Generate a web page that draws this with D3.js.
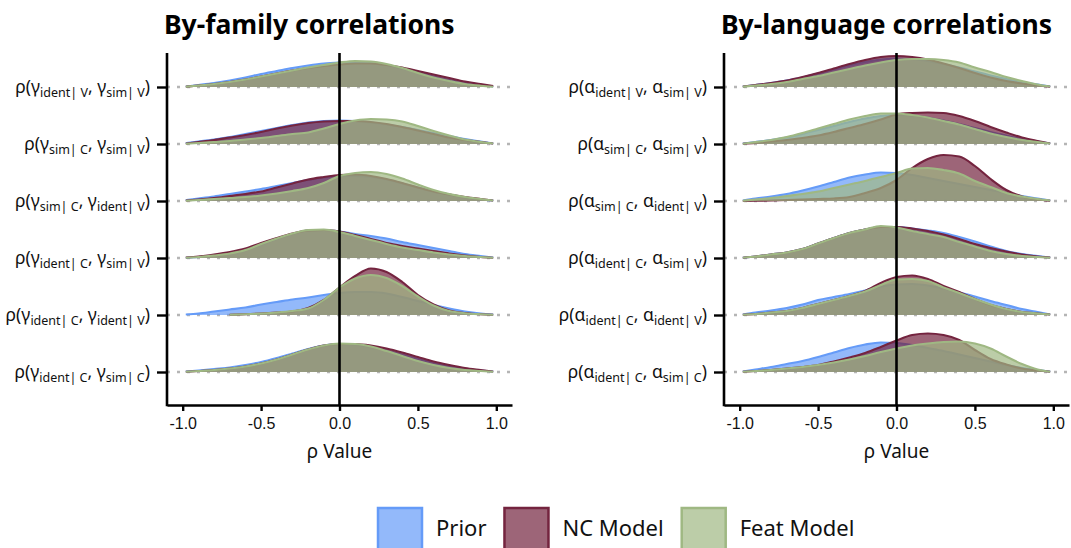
<!DOCTYPE html>
<html>
<head>
<meta charset="utf-8">
<script src="https://cdn.jsdelivr.net/npm/d3@7"></script>
<style>
  body { margin: 0; background: #fff; }
  svg { font-family: "Noto Sans", sans-serif; }
</style>
</head>
<body>
<div id="chart"></div>
<script>
// Data
const rhoGrid = [-0.98, -0.9, -0.8, -0.7, -0.6, -0.5, -0.4, -0.3, -0.2, -0.1, 0,
  0.1, 0.2, 0.3, 0.4, 0.5, 0.6, 0.7, 0.8, 0.9, 0.98];

const models = ["Prior", "NC Model", "Feat Model"];

// row terms, top to bottom
const rowTerms = [
  ["ident| V", "sim| V"],
  ["sim| C", "sim| V"],
  ["sim| C", "ident| V"],
  ["ident| C", "sim| V"],
  ["ident| C", "ident| V"],
  ["ident| C", "sim| C"],
];

const xTicks = [-1, -0.5, 0, 0.5, 1];

// density estimates, one array per row, on rhoGrid
const familyPrior = [
  [0.02,0.08,0.16,0.26,0.38,0.52,0.64,0.76,0.86,0.94,0.98,1.00,0.96,0.88,0.74,0.58,0.42,0.28,0.16,0.08,0.02],
  [0.04,0.10,0.18,0.28,0.40,0.52,0.64,0.76,0.86,0.92,0.94,0.92,0.86,0.78,0.68,0.56,0.44,0.32,0.20,0.10,0.02],
  [0.04,0.10,0.18,0.28,0.38,0.48,0.60,0.72,0.84,0.94,1.00,1.00,0.96,0.86,0.70,0.54,0.38,0.26,0.14,0.06,0.02],
  [0.01,0.04,0.10,0.18,0.32,0.54,0.76,0.96,1.10,1.12,1.06,0.96,0.88,0.78,0.64,0.52,0.40,0.28,0.16,0.08,0.02],
  [0.02,0.06,0.14,0.22,0.30,0.42,0.52,0.62,0.70,0.80,0.88,0.92,0.92,0.86,0.72,0.56,0.40,0.26,0.14,0.06,0.02],
  [0.02,0.06,0.12,0.18,0.28,0.40,0.56,0.74,0.92,1.06,1.12,1.10,1.00,0.86,0.70,0.52,0.36,0.22,0.12,0.06,0.02],
];
const familyNC = [
  [0.01,0.06,0.12,0.20,0.30,0.42,0.54,0.66,0.76,0.84,0.90,0.94,0.94,0.88,0.78,0.64,0.50,0.36,0.22,0.12,0.04],
  [0.02,0.08,0.16,0.26,0.36,0.48,0.62,0.74,0.84,0.90,0.92,0.92,0.88,0.80,0.68,0.54,0.40,0.26,0.16,0.08,0.02],
  [0.02,0.06,0.12,0.20,0.28,0.38,0.54,0.70,0.86,0.96,1.04,1.06,1.00,0.88,0.72,0.54,0.38,0.26,0.16,0.08,0.02],
  [0.02,0.06,0.14,0.24,0.38,0.60,0.80,0.98,1.10,1.12,1.06,0.92,0.76,0.60,0.48,0.38,0.28,0.18,0.10,0.04,0.01],
  [null,null,null,0.01,0.03,0.06,0.10,0.14,0.28,0.60,1.10,1.56,1.86,1.72,1.32,0.80,0.42,0.18,0.08,0.03,0.01],
  [0.01,0.04,0.08,0.14,0.22,0.34,0.50,0.70,0.90,1.06,1.12,1.12,1.06,0.94,0.78,0.60,0.42,0.28,0.16,0.08,0.02],
];
const familyFeat = [
  [0.01,0.06,0.12,0.20,0.30,0.42,0.54,0.66,0.78,0.88,0.98,1.04,1.02,0.92,0.76,0.56,0.38,0.24,0.12,0.05,0.01],
  [0.01,0.04,0.08,0.12,0.18,0.24,0.32,0.40,0.46,0.62,0.80,0.94,1.00,0.98,0.90,0.72,0.52,0.34,0.18,0.08,0.02],
  [0.01,0.04,0.08,0.12,0.16,0.22,0.30,0.40,0.52,0.72,1.00,1.12,1.16,1.08,0.90,0.66,0.44,0.28,0.16,0.08,0.02],
  [0.01,0.04,0.10,0.18,0.32,0.56,0.78,0.98,1.12,1.14,1.04,0.88,0.72,0.56,0.42,0.32,0.22,0.14,0.08,0.04,0.01],
  [null,null,null,0.01,0.03,0.06,0.10,0.16,0.26,0.60,1.10,1.46,1.60,1.48,1.16,0.74,0.38,0.16,0.07,0.03,0.01],
  [0.01,0.04,0.08,0.14,0.22,0.34,0.50,0.70,0.90,1.06,1.14,1.12,1.02,0.84,0.64,0.44,0.28,0.16,0.08,0.04,0.01],
];

const languagePrior = [
  [0.02,0.08,0.16,0.26,0.38,0.54,0.70,0.86,1.00,1.10,1.14,1.12,1.04,0.92,0.78,0.62,0.46,0.32,0.20,0.10,0.02],
  [0.02,0.08,0.16,0.26,0.40,0.56,0.72,0.88,1.02,1.12,1.16,1.14,1.06,0.94,0.80,0.64,0.48,0.34,0.20,0.10,0.02],
  [0.02,0.10,0.18,0.28,0.42,0.58,0.76,0.94,1.06,1.14,1.12,1.04,0.92,0.80,0.68,0.56,0.44,0.32,0.20,0.10,0.02],
  [0.01,0.06,0.14,0.22,0.36,0.58,0.80,1.00,1.14,1.24,1.24,1.18,1.10,1.00,0.84,0.66,0.46,0.28,0.16,0.08,0.02],
  [0.02,0.10,0.18,0.28,0.42,0.60,0.72,0.84,0.98,1.14,1.22,1.24,1.18,1.06,0.90,0.74,0.56,0.40,0.24,0.12,0.02],
  [0.02,0.10,0.20,0.32,0.44,0.60,0.78,0.96,1.10,1.18,1.16,1.08,0.96,0.84,0.70,0.56,0.42,0.28,0.16,0.08,0.02],
];
const languageNC = [
  [0.02,0.08,0.16,0.26,0.40,0.56,0.74,0.92,1.08,1.20,1.24,1.20,1.10,0.94,0.76,0.56,0.38,0.24,0.14,0.06,0.01],
  [0.01,0.04,0.10,0.16,0.24,0.34,0.48,0.64,0.80,0.98,1.18,1.24,1.26,1.24,1.12,0.92,0.68,0.46,0.26,0.12,0.02],
  [0.00,0.01,0.02,0.04,0.06,0.08,0.10,0.16,0.32,0.52,0.84,1.32,1.68,1.84,1.78,1.40,0.88,0.44,0.18,0.06,0.01],
  [0.01,0.06,0.14,0.22,0.36,0.58,0.80,1.00,1.14,1.24,1.24,1.18,1.08,0.94,0.76,0.56,0.40,0.26,0.14,0.06,0.02],
  [0.01,0.04,0.10,0.16,0.28,0.44,0.60,0.76,0.96,1.28,1.52,1.58,1.44,1.16,0.92,0.64,0.40,0.24,0.12,0.06,0.02],
  [0.01,0.04,0.08,0.14,0.20,0.28,0.42,0.58,0.76,1.00,1.26,1.48,1.54,1.48,1.28,0.88,0.52,0.30,0.14,0.06,0.01],
];
const languageFeat = [
  [0.01,0.06,0.12,0.20,0.32,0.44,0.58,0.72,0.86,0.98,1.08,1.12,1.12,1.08,0.98,0.78,0.60,0.40,0.24,0.10,0.02],
  [0.01,0.08,0.16,0.28,0.44,0.62,0.80,0.98,1.12,1.22,1.22,1.16,1.06,0.92,0.78,0.60,0.42,0.28,0.16,0.08,0.02],
  [0.01,0.06,0.12,0.20,0.28,0.38,0.52,0.66,0.80,0.96,1.12,1.30,1.32,1.24,1.10,0.80,0.56,0.32,0.18,0.08,0.02],
  [0.01,0.06,0.14,0.22,0.36,0.58,0.80,1.00,1.14,1.28,1.22,1.08,0.96,0.84,0.64,0.46,0.28,0.16,0.08,0.04,0.01],
  [0.01,0.04,0.10,0.16,0.28,0.44,0.60,0.76,0.94,1.20,1.42,1.44,1.36,1.10,0.88,0.64,0.42,0.24,0.12,0.06,0.02],
  [0.01,0.04,0.08,0.14,0.20,0.28,0.38,0.50,0.64,0.80,0.94,1.06,1.14,1.20,1.22,1.14,0.94,0.62,0.32,0.10,0.01],
];

// Styles
const lineColors = { "Prior": "#659bf8", "NC Model": "#74243f", "Feat Model": "#9fb883" };
const fillAlpha = 0.7;

// Dimensions
const dimensions = {
  width: 1071,
  height: 548,
  top: 53,
  bottom: 405,
  firstRow: 87,
  lastRow: 372,
  pxPerDensity: 25,
};

const svg = d3
  .select("#chart")
  .append("svg")
  .attr("width", dimensions.width)
  .attr("height", dimensions.height);

function drawPanel(x0, x1, title, symbol, series) {
  const xScale = d3.scaleLinear().domain([-1.1, 1.1]).range([x0, x1]);
  const yScale = d3
    .scalePoint()
    .domain(d3.range(rowTerms.length))
    .range([dimensions.firstRow, dimensions.lastRow]);
  const hScale = d3.scaleLinear().domain([0, 1]).range([0, dimensions.pxPerDensity]);

  const panel = svg.append("g");

  // dotted baselines
  panel
    .selectAll(".base")
    .data(rowTerms)
    .join("line")
    .attr("x1", x0)
    .attr("x2", x1)
    .attr("y1", (d, i) => yScale(i))
    .attr("y2", (d, i) => yScale(i))
    .attr("stroke", "#b5b5b5")
    .attr("stroke-width", 2.5)
    .attr("stroke-dasharray", "3,7");

  // ridges
  rowTerms.forEach((terms, i) => {
    const base = yScale(i);
    models.forEach((m, k) => {
      const pts = rhoGrid.map((r, j) => [r, series[k][i][j]]);
      const area = d3
        .area()
        .defined((d) => d[1] != null)
        .x((d) => xScale(d[0]))
        .y0(base)
        .y1((d) => base - hScale(d[1]))
        .curve(d3.curveMonotoneX);
      const line = d3
        .line()
        .defined((d) => d[1] != null)
        .x((d) => xScale(d[0]))
        .y((d) => base - hScale(d[1]))
        .curve(d3.curveMonotoneX);
      panel
        .append("path")
        .datum(pts)
        .attr("d", area)
        .attr("fill", lineColors[m])
        .attr("fill-opacity", fillAlpha);
      panel
        .append("path")
        .datum(pts)
        .attr("d", line)
        .attr("fill", "none")
        .attr("stroke", lineColors[m])
        .attr("stroke-width", 2.1);
    });
  });

  // zero line
  panel
    .append("line")
    .attr("x1", xScale(0))
    .attr("x2", xScale(0))
    .attr("y1", dimensions.top)
    .attr("y2", dimensions.bottom)
    .attr("stroke", "black")
    .attr("stroke-width", 2.6);

  // Axes
  const xAxis = d3
    .axisBottom(xScale)
    .tickValues(xTicks)
    .tickSize(6)
    .tickSizeOuter(0)
    .tickFormat((d) => d.toFixed(1));
  const xAxisGroup = panel
    .append("g")
    .attr("transform", `translate(0,${dimensions.bottom})`)
    .call(xAxis);
  xAxisGroup.select(".domain").attr("stroke-width", 2.6);
  xAxisGroup.selectAll(".tick line").attr("stroke-width", 2.4);
  xAxisGroup
    .selectAll(".tick text")
    .attr("font-size", 16)
    .attr("fill", "#111")
    .attr("y", 13);

  panel
    .append("text")
    .attr("x", xScale(0))
    .attr("y", 458)
    .attr("text-anchor", "middle")
    .attr("font-size", 19)
    .attr("fill", "#111")
    .text("ρ Value");

  const yAxis = d3.axisLeft(yScale).tickSize(10).tickSizeOuter(0).tickFormat("");
  const yAxisGroup = panel.append("g").attr("transform", `translate(${x0},0)`).call(yAxis);
  yAxisGroup.select(".domain").remove();
  yAxisGroup.selectAll(".tick line").attr("stroke-width", 2.4);

  panel
    .append("line")
    .attr("x1", x0)
    .attr("x2", x0)
    .attr("y1", dimensions.top)
    .attr("y2", dimensions.bottom + 1.3)
    .attr("stroke", "black")
    .attr("stroke-width", 2.6);

  // row labels with subscripts
  rowTerms.forEach((terms, i) => {
    const t = panel
      .append("text")
      .attr("x", x0 - 17)
      .attr("y", yScale(i) + 6)
      .attr("text-anchor", "end")
      .attr("font-size", 17.5)
      .attr("fill", "#111");
    t.append("tspan").text("ρ(" + symbol);
    t.append("tspan").attr("font-size", 12.5).attr("dy", 4).text(terms[0]);
    t.append("tspan").attr("dy", -4).text(", " + symbol);
    t.append("tspan").attr("font-size", 12.5).attr("dy", 4).text(terms[1]);
    t.append("tspan").attr("dy", -4).text(")");
  });

  // title
  panel
    .append("text")
    .attr("x", x0 - 3)
    .attr("y", 34)
    .attr("font-size", 26.5)
    .attr("font-weight", "bold")
    .attr("fill", "#000")
    .text(title);
}

drawPanel(167, 512, "By-family correlations", "γ", [familyPrior, familyNC, familyFeat]);
drawPanel(724, 1069, "By-language correlations", "α", [languagePrior, languageNC, languageFeat]);

// Legend
const legend = svg.append("g");
let lx = 378;
models.forEach((m) => {
  legend
    .append("rect")
    .attr("x", lx)
    .attr("y", 508)
    .attr("width", 44)
    .attr("height", 44)
    .attr("fill", lineColors[m])
    .attr("fill-opacity", fillAlpha)
    .attr("stroke", lineColors[m])
    .attr("stroke-width", 2.5);
  const txt = legend
    .append("text")
    .attr("x", lx + 58)
    .attr("y", 536)
    .attr("font-size", 22)
    .attr("fill", "#111")
    .text(m);
  lx += 58 + txt.node().getComputedTextLength() + 18;
});
</script>
</body>
</html>
